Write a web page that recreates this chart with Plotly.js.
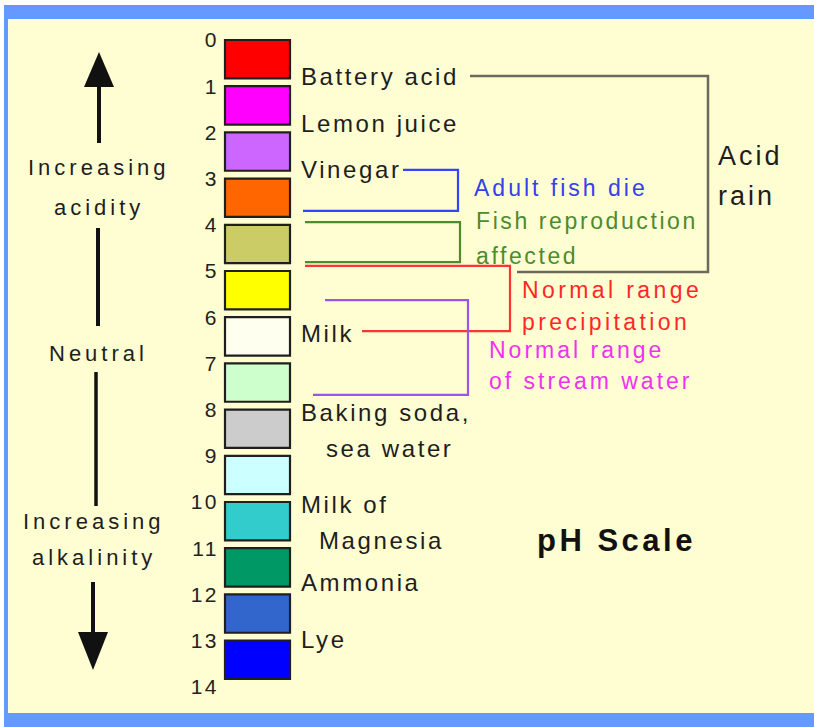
<!DOCTYPE html>
<html>
<head>
<meta charset="utf-8">
<script src="https://cdn.plot.ly/plotly-3.0.1.min.js"></script>
<style>
  html, body { margin: 0; padding: 0; background: #FFFDD2; overflow: hidden; }
  #chart { width: 814px; height: 727px; }
  .ytick text { letter-spacing: 2.5px; }
</style>
</head>
<body>
<div id="chart"></div>
<script>
// ---------------- DATA ----------------
const phTicks = [0, 1, 2, 3, 4, 5, 6, 7, 8, 9, 10, 11, 12, 13, 14];
const phTickLabels = ['0', '1', '2', '3', '4', '5', '6', '7', '8', '9', '10', '11', '12', '13', '14'];

// colour swatch for each pH band (band starts at the given pH)
const bandPH = [0, 1, 2, 3, 4, 5, 6, 7, 8, 9, 10, 11, 12, 13];
const bandColors = ['#FF0000', '#FF00FF', '#CC66FF', '#FF6600', '#CCCC66', '#FFFF00', '#FFFFF0',
                    '#CCFFCC', '#CCCCCC', '#CCFFFF', '#33CCCC', '#009966', '#3366CC', '#0000FF'];

// everyday substances and their pH
const substanceLine1 = ['Battery acid', 'Lemon juice', 'Vinegar', 'Milk', 'Baking soda,', 'Milk of', 'Ammonia', 'Lye'];
const substanceLine2 = ['', '', '', '', 'sea water', 'Magnesia', '', ''];
const substancePH = [0.80, 1.80, 2.81, 6.35, 8.07, 10.05, 11.75, 12.98];

// pH ranges shown with brackets
const rangeNames = ['Acid rain', 'Adult fish die', 'Fish reproduction affected',
                    'Normal range precipitation', 'Normal range of stream water'];
const rangeLow  = [0.78, 2.81, 3.94, 4.89, 5.63];
const rangeHigh = [5.02, 3.70, 4.81, 6.30, 7.68];

// ---------------- STYLE / LAYOUT ----------------
const W = 814, H = 727;
const PX0 = 40, PXPERPH = 46.2;           // pixel row of pH 0 and pixels per pH unit
const yTop = -PX0 / PXPERPH, yBot = (H - PX0) / PXPERPH;
const FONT = '"Liberation Sans", Arial, sans-serif';
const DARK = '#1e1e1e';
const CREAM = '#FFFDD2', BLUE = '#6699FF';
const px = v => v / W;                    // x pixel -> paper
const py = v => 1 - v / H;                // y pixel -> paper
const sp = (t, s) => '<span style="letter-spacing:' + s + 'px">' + t + '</span>';

const bandHeight = 0.83;
const bandCenterX = 257.5, bandWidth = 65;

// bracket geometry: [x of top arm start, x of vertical, x of bottom arm start]
const rangeStyle = [
  { color: '#6A6A5E', width: 2.5, xs: [470, 708, 517] },
  { color: '#3344FF', width: 2.2, xs: [403, 458, 303] },
  { color: '#4E8A2E', width: 2.2, xs: [305, 460, 305] },
  { color: '#FF3333', width: 2.2, xs: [305, 510, 362] },
  { color: '#9955EE', width: 2.2, xs: [325, 468, 313] }
];
const rangeLabelStyle = [
  { lines: ['Acid', 'rain'], x: 716, y: [156, 196], color: DARK, size: 27, ls: 3 },
  { lines: ['Adult fish die'], x: 472, y: [188], color: '#3340EE', size: 23, ls: 3 },
  { lines: ['Fish reproduction', 'affected'], x: 474, y: [221, 256], color: '#4E8A2E', size: 23, ls: 2.6 },
  { lines: ['Normal range', 'precipitation'], x: 520, y: [290, 322], color: '#FF2828', size: 23, ls: 3.4 },
  { lines: ['Normal range', 'of stream water'], x: 487, y: [350, 381], color: '#EE33EE', size: 23, ls: 3 }
];

// ---------------- TRACES ----------------
const traces = [];
traces.push({
  type: 'bar',
  x: bandPH.map(() => bandCenterX),
  base: bandPH,
  y: bandPH.map(() => bandHeight),
  width: bandPH.map(() => bandWidth),
  marker: { color: bandColors, line: { color: '#1f1f1f', width: 2.2 } },
  hoverinfo: 'skip',
  showlegend: false
});

rangeNames.forEach((name, i) => {
  const s = rangeStyle[i];
  traces.push({
    type: 'scatter', mode: 'lines', name: name,
    x: [s.xs[0], s.xs[1], s.xs[1], s.xs[2]],
    y: [rangeLow[i], rangeLow[i], rangeHigh[i], rangeHigh[i]],
    line: { color: s.color, width: s.width },
    hoverinfo: 'skip', showlegend: false
  });
});

// ---------------- ANNOTATIONS ----------------
const annotations = [];
substanceLine1.forEach((t, i) => {
  annotations.push({
    xref: 'x', yref: 'y', x: 299, y: substancePH[i], xanchor: 'left', yanchor: 'middle',
    text: sp(t, 2.6), showarrow: false, font: { family: FONT, size: 24, color: DARK }
  });
  if (substanceLine2[i]) {
    annotations.push({
      xref: 'x', yref: 'y', x: i === 4 ? 324 : 317, y: substancePH[i], yshift: -36,
      xanchor: 'left', yanchor: 'middle',
      text: sp(substanceLine2[i], 2.6), showarrow: false, font: { family: FONT, size: 24, color: DARK }
    });
  }
});
rangeLabelStyle.forEach(s => {
  s.lines.forEach((t, k) => {
    annotations.push({
      xref: 'paper', yref: 'paper', x: px(s.x), y: py(s.y[k]), xanchor: 'left', yanchor: 'middle',
      text: sp(t, s.ls), showarrow: false, font: { family: FONT, size: s.size, color: s.color }
    });
  });
});
const sideText = [
  ['Increasing', 99, 167], ['acidity', 99, 207], ['Neutral', 98, 353],
  ['Increasing', 94, 521], ['alkalinity', 94, 557]
];
sideText.forEach(([t, x, y]) => {
  annotations.push({
    xref: 'paper', yref: 'paper', x: px(x), y: py(y), xanchor: 'center', yanchor: 'middle',
    text: sp(t, 4), showarrow: false, font: { family: FONT, size: 22, color: DARK }
  });
});
annotations.push({
  xref: 'paper', yref: 'paper', x: px(616), y: py(540), xanchor: 'center', yanchor: 'middle',
  text: sp('<b>pH Scale</b>', 3.5), showarrow: false, font: { family: FONT, size: 31, color: '#111' }
});

// ---------------- SHAPES ----------------
const tri = pts => 'M ' + pts.map(p => px(p[0]) + ',' + py(p[1])).join(' L ') + ' Z';
const rectPx = (x0, y0, x1, y1, color) => ({
  type: 'rect', xref: 'paper', yref: 'paper', x0: px(x0), x1: px(x1), y0: py(y1), y1: py(y0),
  fillcolor: color, line: { width: 0 }, layer: 'below'
});
const shapes = [
  rectPx(0, 0, W, 5, '#FFFFFF'),          // white margin at the top
  rectPx(0, 0, 4, H, '#FFFFFF'),          // white margin at the left
  rectPx(4, 5, W, 19, BLUE),              // blue frame: top
  rectPx(4, 5, 8, H, BLUE),               // blue frame: left
  rectPx(4, 713, W, H, BLUE),             // blue frame: bottom
  // left arrows
  { type: 'path', xref: 'paper', yref: 'paper', path: tri([[84, 87], [114, 87], [99, 52]]),
    fillcolor: '#111', line: { width: 0 } },
  { type: 'line', xref: 'paper', yref: 'paper', x0: px(99), x1: px(99), y0: py(86), y1: py(143),
    line: { color: '#111', width: 4 } },
  { type: 'line', xref: 'paper', yref: 'paper', x0: px(98), x1: px(98), y0: py(228), y1: py(326),
    line: { color: '#111', width: 4 } },
  { type: 'line', xref: 'paper', yref: 'paper', x0: px(96), x1: px(96), y0: py(372), y1: py(506),
    line: { color: '#111', width: 3.5 } },
  { type: 'line', xref: 'paper', yref: 'paper', x0: px(93), x1: px(93), y0: py(582), y1: py(633),
    line: { color: '#111', width: 4 } },
  { type: 'path', xref: 'paper', yref: 'paper', path: tri([[78, 632], [108, 632], [93, 670]]),
    fillcolor: '#111', line: { width: 0 } }
];

const layout = {
  width: W, height: H,
  margin: { l: 0, r: 0, t: 0, b: 0, pad: 0 },
  paper_bgcolor: CREAM,
  plot_bgcolor: 'rgba(0,0,0,0)',
  showlegend: false,
  hovermode: false,
  barmode: 'overlay',
  xaxis: { range: [0, W], visible: false, fixedrange: true },
  yaxis: {
    range: [yBot, yTop], autorange: false, fixedrange: true,
    anchor: 'free', position: 219 / W, side: 'left',
    tickmode: 'array', tickvals: phTicks, ticktext: phTickLabels,
    ticks: '', showgrid: false, zeroline: false, showline: false,
    tickfont: { family: FONT, size: 21, color: '#222' }
  },
  shapes: shapes,
  annotations: annotations
};

Plotly.newPlot('chart', traces, layout, { displayModeBar: false, staticPlot: true });
</script>
</body>
</html>
